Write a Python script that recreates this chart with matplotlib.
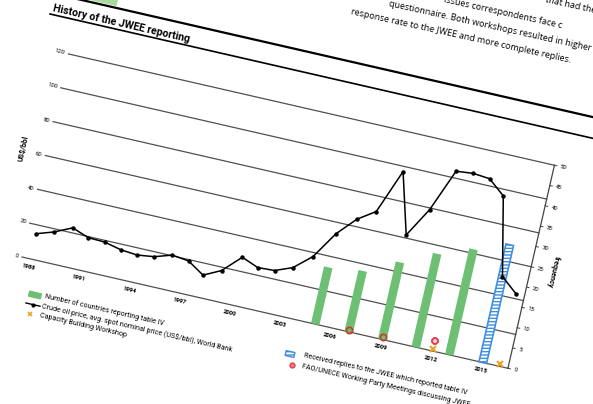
import numpy as np
import matplotlib
matplotlib.use('Agg')
import matplotlib.pyplot as plt
from matplotlib.transforms import Affine2D
from matplotlib.patches import Rectangle
from matplotlib import font_manager

# data
years = np.arange(1988, 2017)
oil_price = [14.9, 18.2, 22.9, 19.4, 19.0, 16.8, 15.9, 17.2, 20.4, 19.2,
             13.1, 18.1, 28.2, 24.4, 24.9, 28.9, 37.7, 53.4, 64.3, 71.1,
             97.0, 61.8, 79.0, 104.0, 105.0, 104.1, 96.2, 50.8, 42.8]

report_years = [2005, 2007, 2009, 2011, 2013]
countries_reporting = [14, 15, 19, 23, 26]
reply_years = [2015]
replies_table4 = [29]
workshop_years = [2012, 2016]
workshop_level = [0.5, 0.5]
meeting_years = [2007, 2009]
meeting_level = [0.5, 0.5]
meeting2_years = [2012]
meeting2_level = [2.5]

left_ticks = [0, 20, 40, 60, 80, 100, 120]
right_ticks = list(range(0, 55, 5))
year_ticks = list(range(1988, 2016, 3))

names = {f.name for f in font_manager.fontManager.ttflist}
narrow = 'Liberation Sans Narrow' if 'Liberation Sans Narrow' in names else 'Roboto'
body = 'Open Sans'

W, H = 593, 404
fig = plt.figure(figsize=(W / 100, H / 100), dpi=100)
ax = fig.add_axes([0, 0, 1, 1])
ax.set_xlim(0, W)
ax.set_ylim(H, 0)
ax.set_autoscale_on(False)
ax.axis('off')

# the page is scanned at a tilt
ANG = 12.9
X0, X1 = 1987.5, 2016.5
PW, PH = 498.5, 208.3
ORIGIN = (22, 257)


def chart_tf(ymax):
    return (Affine2D().translate(-X0, 0).scale(PW / (X1 - X0), -PH / ymax)
            .rotate_deg(ANG).translate(*ORIGIN) + ax.transData)


tl = chart_tf(120)
tr = chart_tf(50)
rot = dict(rotation=-ANG, rotation_mode='anchor')

# grid + left labels
for v in left_ticks:
    ax.plot([X0, X1], [v, v], color='#505050', lw=0.9, transform=tl, zorder=1)
    ax.text(X0 - 0.2, v, str(v), transform=tl, ha='right', va='center',
            fontsize=4.3, family=narrow, **rot)

# right axis
ax.plot([X1, X1], [0, 50], color='#444444', lw=0.9, transform=tr, zorder=1)
for v in right_ticks:
    ax.plot([X1, X1 + 0.15], [v, v], color='#444444', lw=0.7, transform=tr)
    ax.text(X1 + 0.35, v, str(v), transform=tr, ha='left', va='center',
            fontsize=4.3, family=narrow, **rot)

for y in year_ticks:
    ax.text(y, -4.6, str(y), transform=tl, ha='center', va='center',
            fontsize=4.3, fontweight='bold', family=narrow, **rot)

ax.text(1986.2, 61, 'US$/bbl', transform=tl, rotation=90 - ANG,
        rotation_mode='anchor', ha='center', va='center', fontsize=5.2,
        fontweight='bold', family=narrow)
ax.text(2017.8, 25, 'frequency', transform=tr, rotation=-90 - ANG,
        rotation_mode='anchor', ha='center', va='center', fontsize=5.2,
        fontweight='bold', family=narrow)

# bars
ax.bar(report_years, countries_reporting, width=0.5, color='#6cbf73',
       transform=tr, zorder=2)
ax.bar(reply_years, replies_table4, width=0.45, facecolor='white',
       edgecolor='#3f8fdc', hatch='-----', lw=1.2, transform=tr, zorder=2)

# oil price
ax.plot(years, oil_price, color='black', lw=1.1, marker='o', ms=2.2,
        transform=tl, zorder=4)

# events
ax.plot(workshop_years, workshop_level, ls='none', marker='x', ms=5, mew=1.5,
        color='#e6a526', transform=tr, zorder=5)
ax.plot(meeting_years, meeting_level, ls='none', marker='o', ms=4.5,
        mfc='none', mec='#c8402e', mew=1.3, transform=tr, zorder=5)
ax.plot(meeting2_years, meeting2_level, ls='none', marker='8', ms=5,
        mfc='#ffd0d8', mec='#e8364a', mew=1.3, transform=tr, zorder=5)

# page decorations
sl = np.tan(np.radians(ANG))
ax.plot([60, 600], [50 - sl * 240, 50 + sl * 300], color='black', lw=1.6)
ax.plot([50, 600], [14, 14 + sl * 550], color='black', lw=1.2)
ax.add_patch(Rectangle((0, -20), 37, 20, color='#a9d99b',
                       transform=Affine2D().rotate_deg(ANG).translate(80, -3) + ax.transData))
ax.text(52, 11, 'History of the JWEE reporting', ha='left', va='baseline',
        fontsize=7.6, fontweight='bold', family=narrow, **rot)

para = [(545, 2, 'that had the c'),
        (443, 2, 'issues correspondents face c'),
        (388, 6, 'questionnaire. Both workshops resulted in higher'),
        (350, 14, 'response rate to the JWEE and more complete replies.')]
for x, y, s in para:
    ax.text(x, y, s, ha='left', va='baseline', fontsize=6.5, family=body,
            rotation=-12.5, rotation_mode='anchor')

# legend
lg = dict(ha='left', va='center', fontsize=5.1, family=narrow, **rot)
ax.add_patch(Rectangle((-6, -2.5), 12, 5, color='#6cbf73',
                       transform=Affine2D().rotate_deg(ANG).translate(35, 295) + ax.transData))
ax.text(45, 296, 'Number of countries reporting table IV', **lg)
ax.plot([26, 40], [303, 306.2], color='black', lw=1)
ax.plot([33], [304.6], marker='o', ms=2, color='black')
ax.text(42, 306, 'Crude oil price, avg. spot nominal price (US$/bbl), World Bank', **lg)
ax.plot([30], [314], marker='x', ms=3.5, mew=1.2, color='#e6a526', ls='none')
ax.text(40, 316, 'Capacity Building Workshop', **lg)

ax.add_patch(Rectangle((-4.5, -2.5), 9, 5, facecolor='white', edgecolor='#3f8fdc',
                       hatch='-----', lw=1,
                       transform=Affine2D().rotate_deg(ANG).translate(290, 354) + ax.transData))
ax.text(304, 356, 'Received replies to the JWEE which reported table IV', **lg)
ax.plot([291.5], [365], marker='o', ms=3.5, mfc='#f08080', mec='#e8364a', mew=1, ls='none')
ax.text(302, 366.5, 'FAO/UNECE Working Party Meetings discussing JWEE', **lg)

fig.savefig('out.png', dpi=100)
